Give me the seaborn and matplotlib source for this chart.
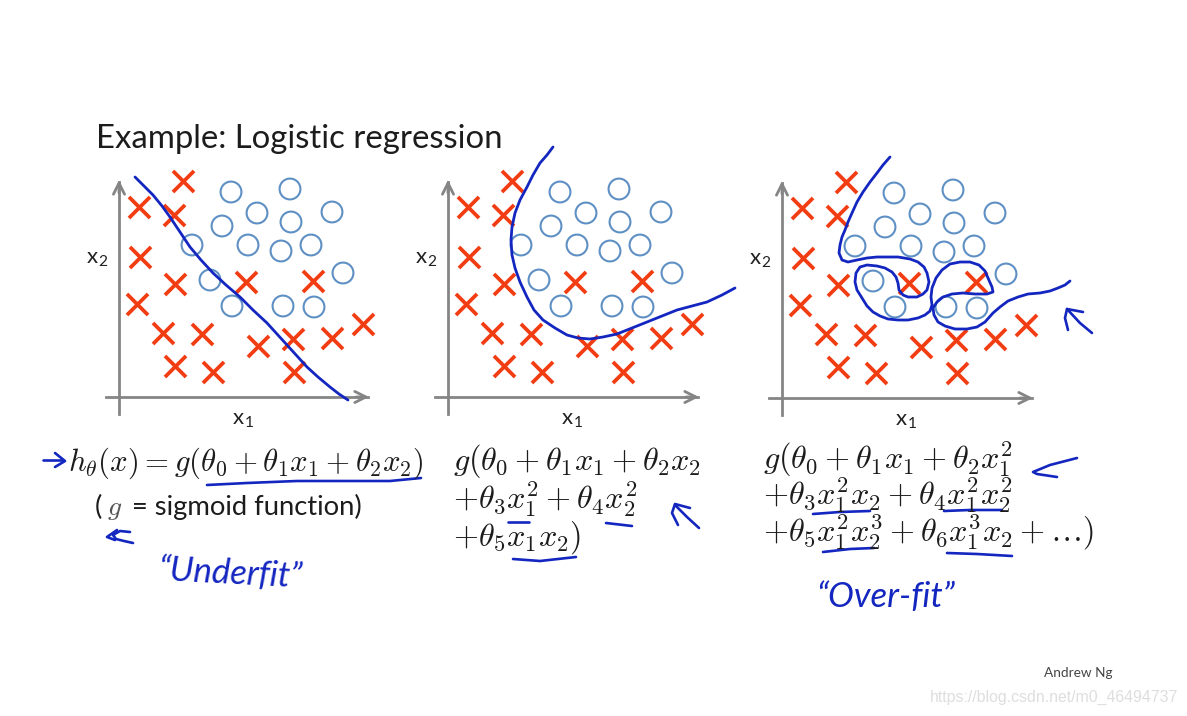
import matplotlib
matplotlib.use("Agg")
import matplotlib.pyplot as plt
import pandas as pd
import seaborn as sns

# Shared data set, in axis units (x1, x2)
cross_x1 = [64, 20, 55, 21, 56, 127, 194, 18, 44, 83, 139, 174, 213, 244, 56, 94, 175]
cross_x2 = [216, 190, 182, 140, 113, 115, 116, 93, 64, 63, 51, 58, 59, 73, 31, 25, 25]
circle_x1 = [112, 171, 138, 103, 172, 213, 73, 129, 162, 192, 224, 91, 113, 164, 195]
circle_x2 = [205, 208, 184, 171, 175, 185, 152, 152, 146, 152, 124, 117, 91, 91, 90]

# Hand-drawn decision boundaries
under_x1 = [16, 25, 34, 43, 51, 61, 71, 82, 94, 107, 121, 134, 148, 158, 168, 178, 188, 199, 211, 220, 229]
under_x2 = [220, 211, 202, 191, 180, 165, 150, 137, 124, 112, 100, 87, 74, 63, 52, 41, 30, 20, 10, 3, -3]
good_x1 = [105, 99, 92, 85, 79, 72, 67, 64, 63, 64, 67, 72, 79, 86, 95, 107, 119, 130, 142, 155, 169, 184,
           199, 214, 229, 244, 259, 274, 287]
good_x2 = [250, 242, 234, 222, 210, 197, 184, 170, 157, 142, 129, 115, 100, 87, 77, 69, 62, 59, 58, 60, 63, 69,
           75, 81, 87, 91, 95, 102, 109]
over_x1 = [108, 101, 95, 88, 81, 75, 70, 66, 63, 60, 58, 57, 60, 66, 75, 85, 95, 105, 116, 128, 136, 142, 145,
           147, 145, 141, 135, 126, 121, 117, 116, 114, 110, 103, 95, 85, 78, 74, 73, 75, 80, 85, 91, 98, 106,
           116, 126, 136, 143, 148, 150, 149, 150, 154, 160, 168, 178, 188, 197, 203, 206, 210, 211, 205, 193,
           181, 170, 161, 155, 151, 152, 156, 163, 173, 185, 195, 203, 211, 218, 226, 236, 246, 258, 268, 276,
           283, 288]
over_x2 = [241, 233, 225, 216, 206, 196, 185, 176, 168, 161, 153, 145, 138, 136, 138, 140, 141, 141, 141, 139,
           136, 131, 125, 116, 108, 104, 101, 101, 103, 108, 115, 121, 126, 130, 132, 133, 131, 125, 116, 108,
           100, 92, 86, 82, 79, 78, 78, 80, 83, 87, 93, 101, 110, 120, 128, 134, 136, 136, 133, 127, 120, 111,
           106, 104, 104, 105, 104, 101, 96, 90, 83, 76, 72, 69, 69, 71, 76, 85, 91, 97, 101, 104, 105, 107,
           110, 113, 117]

titles = "Example: Logistic regression"
formula_under = r"$h_\theta(x)=g(\theta_0+\theta_1x_1+\theta_2x_2)$"
formula_good = [r"$g(\theta_0+\theta_1x_1+\theta_2x_2$", r"$+\theta_3x_1^2+\theta_4x_2^2$", r"$+\theta_5x_1x_2)$"]
formula_over = [r"$g(\theta_0+\theta_1x_1+\theta_2x_1^2$", r"$+\theta_3x_1^2x_2+\theta_4x_1^2x_2^2$",
                r"$+\theta_5x_1^2x_2^3+\theta_6x_1^3x_2+\ldots)$"]

# Pen strokes on the slide (slide pixels)
strokes = [
    ([207, 247, 297, 347, 390, 421], [485, 483, 481, 481, 481, 478]),
    ([43, 63], [460, 460]),
    ([55, 65, 55], [453, 461, 467]),
    ([130, 120, 113, 116, 124, 133], [532, 531, 535, 539, 541, 543]),
    ([117, 107, 115], [530, 537, 540]),
    ([508, 529], [522, 522]),
    ([606, 632], [523, 526]),
    ([513, 540, 576], [559, 561, 557]),
    ([699, 687, 675], [528, 517, 505]),
    ([678, 672, 675, 690], [525, 513, 504, 508]),
    ([1077, 1050, 1033, 1037, 1057], [458, 465, 472, 474, 477]),
    ([813, 840, 870], [514, 512, 511]),
    ([944, 970, 1002], [511, 510, 510]),
    ([823, 850, 874], [552, 549, 548]),
    ([947, 977, 1012], [553, 554, 556]),
    ([1092, 1080, 1067], [333, 323, 309]),
    ([1068, 1065, 1067, 1083], [330, 318, 309, 312]),
]

W, H = 1187, 716
sns.set_theme(style="white")
plt.rcParams["font.family"] = ["Lato", "DejaVu Sans"]
plt.rcParams["mathtext.fontset"] = "cm"

BLUE = "#1426c0"
RED = "#f23c12"
CIRC = "#5f90c4"
GRAY = "#858585"

fig = plt.figure(figsize=(W / 100, H / 100), dpi=100, facecolor="white")

crosses = pd.DataFrame({"x1": cross_x1, "x2": cross_x2})
circles = pd.DataFrame({"x1": circle_x1, "x2": circle_x2})
curves = [(under_x1, under_x2), (good_x1, good_x2), (over_x1, over_x2)]
origins = [(119, 397), (448, 397), (782, 398)]
x_ends = [249, 250, 250]
PADX, PADY, AW, AH = 30, 30, 330, 290

for (ox, oy), (cx, cy), xe in zip(origins, curves, x_ends):
    ax = fig.add_axes([(ox - PADX) / W, 1 - (oy + PADY) / H, AW / W, AH / H])
    ax.set_xlim(-PADX, AW - PADX)
    ax.set_ylim(-PADY, AH - PADY)
    ax.patch.set_alpha(0)
    ax.set_xticks([])
    ax.set_yticks([])
    for name in ("top", "right"):
        ax.spines[name].set_visible(False)
    for name in ("left", "bottom"):
        ax.spines[name].set_position(("data", 0))
        ax.spines[name].set_color(GRAY)
        ax.spines[name].set_linewidth(2.0)
    ax.spines["bottom"].set_bounds(-13, xe)
    ax.spines["left"].set_bounds(-17, 215)
    ax.annotate("", xy=(xe + 1, 0), xytext=(xe - 12, 0),
                arrowprops=dict(arrowstyle="->", color=GRAY, lw=2.0, mutation_scale=20, shrinkA=0, shrinkB=0))
    ax.annotate("", xy=(0, 217), xytext=(0, 204),
                arrowprops=dict(arrowstyle="->", color=GRAY, lw=2.0, mutation_scale=20, shrinkA=0, shrinkB=0))
    sns.scatterplot(data=circles, x="x1", y="x2", ax=ax, marker="o", s=225, facecolor="none",
                    edgecolor=CIRC, linewidth=1.5, clip_on=False, zorder=3)
    sns.scatterplot(data=crosses, x="x1", y="x2", ax=ax, marker="x", s=230, color=RED,
                    linewidth=2.7, clip_on=False, zorder=4)
    sns.lineplot(x=cx, y=cy, ax=ax, sort=False, estimator=None, color=BLUE, lw=2.0, clip_on=False, zorder=5,
                 solid_joinstyle="round", solid_capstyle="round")
    ax.set_xlabel("")
    ax.set_ylabel("")
    ax.text(124, -23, r"x$_{\mathregular{1}}$", fontsize=16, ha="center", va="center", color="#222222")
    ax.text(-22, 138, r"x$_{\mathregular{2}}$", fontsize=16, ha="center", va="center", color="#222222")

ov = fig.add_axes([0, 0, 1, 1])
ov.set_xlim(0, W)
ov.set_ylim(H, 0)
ov.axis("off")
ov.patch.set_alpha(0)

INK = "#1c1c1c"
ov.text(96, 148.5, titles, fontsize=23.7, color=INK, va="baseline")
ov.text(68, 471, formula_under, fontsize=22.2, color=INK, va="baseline")
ov.text(95, 515, "(", fontsize=19.7, color=INK, va="baseline")
ov.text(107, 515, r"$g$", fontsize=20, color="#555555", va="baseline")
ov.text(132, 515, "= sigmoid function)", fontsize=19.7, color=INK, va="baseline")
for text, yb in zip(formula_good, [470.5, 508.5, 545.5]):
    ov.text(453, yb, text, fontsize=23.2, color=INK, va="baseline")
for text, yb in zip(formula_over, [468.5, 505, 542]):
    ov.text(763, yb, text, fontsize=23.2, color=INK, va="baseline")

for xs, ys in strokes:
    ov.plot(xs, ys, color=BLUE, lw=1.9, solid_joinstyle="round", solid_capstyle="round")

ov.text(230, 574, "“Underfit”", fontsize=25, color=BLUE, style="italic", ha="center", va="center", rotation=-3)
ov.text(885, 597, "“Over-fit”", fontsize=25, color=BLUE, style="italic", ha="center", va="center")
ov.text(1078, 673, "Andrew Ng", fontsize=9.8, color="#444444", ha="center", va="center")
ov.text(1178, 697, "https://blog.csdn.net/m0_46494737", fontsize=11.4, color="#dedede", ha="right", va="center",
        family="Liberation Sans")

fig.savefig("out.png", dpi=100, facecolor="white")
